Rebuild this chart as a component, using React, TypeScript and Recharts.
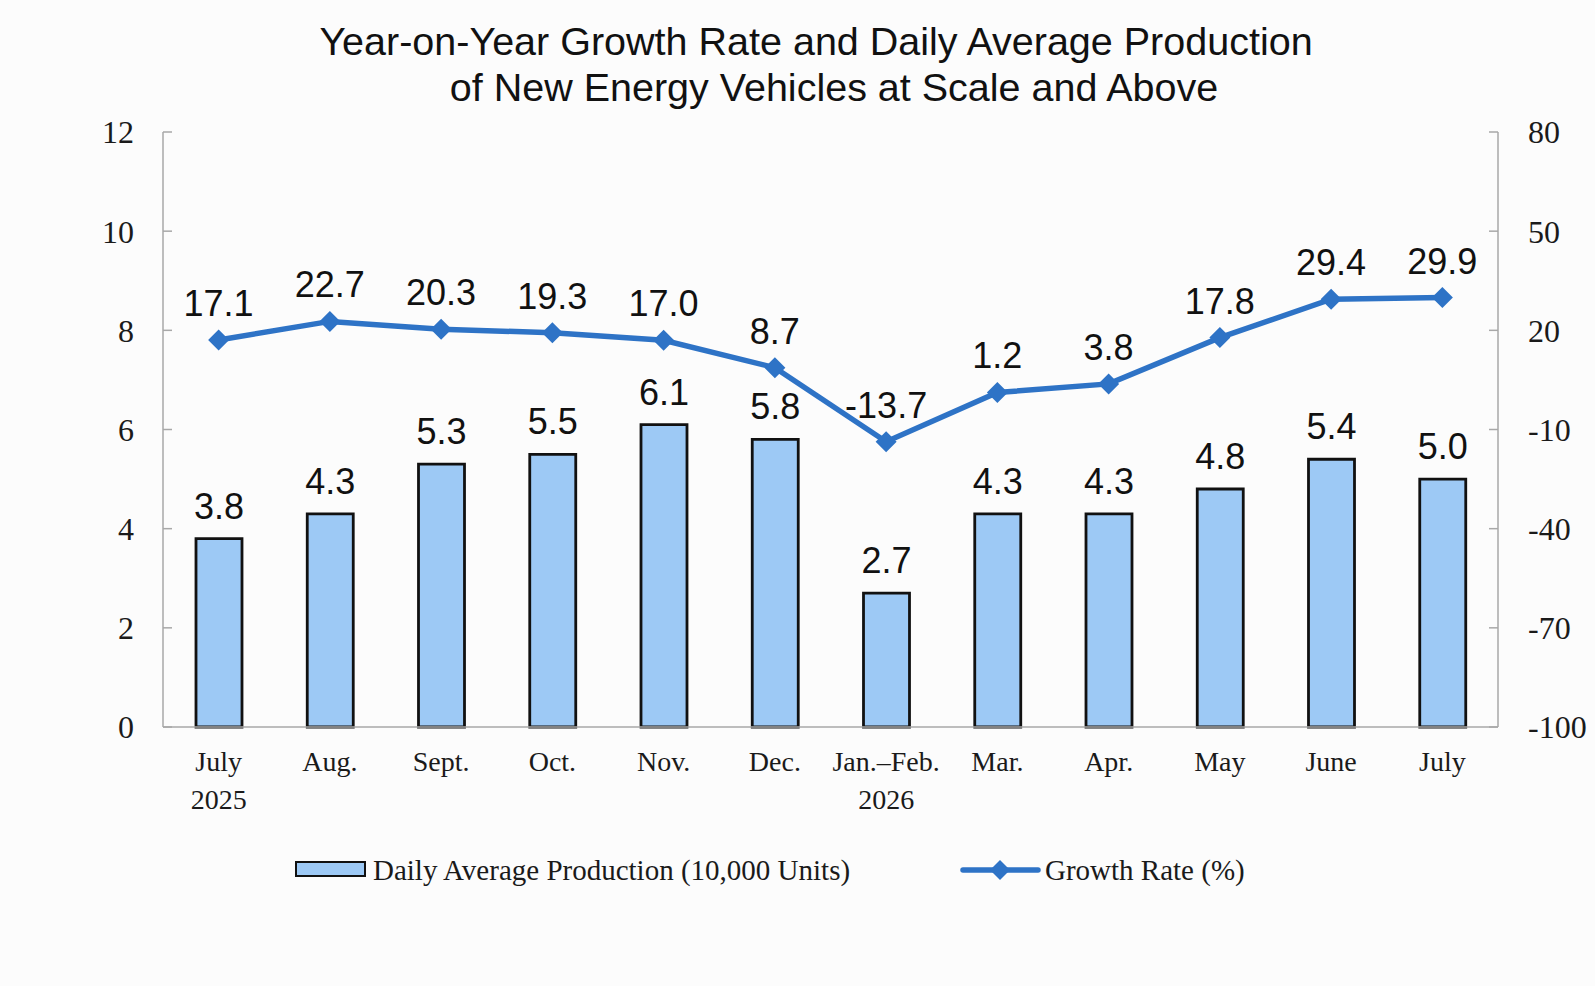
import React from 'react';
import { ComposedChart, Bar, Line, XAxis, YAxis, LabelList } from 'recharts';

// categories and values
const months = ['July', 'Aug.', 'Sept.', 'Oct.', 'Nov.', 'Dec.', 'Jan.\u2013Feb.', 'Mar.', 'Apr.', 'May', 'June', 'July'];
const years = ['2025', '', '', '', '', '', '2026', '', '', '', '', ''];
const production = [3.8, 4.3, 5.3, 5.5, 6.1, 5.8, 2.7, 4.3, 4.3, 4.8, 5.4, 5.0];
const growth = [17.1, 22.7, 20.3, 19.3, 17.0, 8.7, -13.7, 1.2, 3.8, 17.8, 29.4, 29.9];
const leftTicks = [0, 2, 4, 6, 8, 10, 12];
const rightTicks = [-100, -70, -40, -10, 20, 50, 80];
const boundaryTicks = [0, 1, 2, 3, 4, 5, 6, 7, 8, 9, 10, 11, 12];

const BAR_FILL = '#9DC9F5';
const LINE_COLOR = '#2E73C6';
const AXIS_COLOR = '#A8A8A8';
const SERIF = '"Liberation Serif", "DejaVu Serif", serif';
const SANS = '"Liberation Sans", Arial, sans-serif';

const data = months.map((m, i) => ({
  idx: i,
  month: m,
  production: production[i],
  growth: growth[i],
}));

const Diamond = (props: any) => {
  const { cx, cy } = props;
  if (cx == null || cy == null) return null;
  const r = 10.5;
  return (
    <path
      d={`M${cx},${cy - r}L${cx + r},${cy}L${cx},${cy + r}L${cx - r},${cy}Z`}
      fill={LINE_COLOR}
      stroke="none"
    />
  );
};

const MonthTick = (props: any) => {
  const { x, y, payload } = props;
  const i = payload.index;
  return (
    <text x={x} y={y} textAnchor="middle" fontFamily={SERIF} fontSize={28} fill="#1a1a1a">
      <tspan x={x} dy={44}>{months[i]}</tspan>
      {years[i] && (
        <tspan x={x} dy={38}>
          {years[i]}
        </tspan>
      )}
    </text>
  );
};

const fmt = (v: any) => Number(v).toFixed(1);

export default function App() {
  return (
    <div
      style={{
        position: 'absolute',
        left: 0,
        top: 0,
        width: 1595,
        height: 986,
        background: '#FCFCFC',
        overflow: 'hidden',
      }}
    >
      <div
        style={{
          position: 'absolute',
          left: 0,
          width: 1632,
          top: 19,
          textAlign: 'center',
          fontFamily: SANS,
          fontSize: 39.5,
          lineHeight: '44px',
          color: '#111',
          whiteSpace: 'nowrap',
        }}
      >
        Year-on-Year Growth Rate and Daily Average Production
      </div>
      <div
        style={{
          position: 'absolute',
          left: 0,
          width: 1668,
          top: 65,
          textAlign: 'center',
          fontFamily: SANS,
          fontSize: 39.5,
          lineHeight: '44px',
          color: '#111',
          whiteSpace: 'nowrap',
        }}
      >
        of New Energy Vehicles at Scale and Above
      </div>

      <div style={{ position: 'absolute', left: 0, top: 0 }}>
        <ComposedChart
          width={1595}
          height={986}
          data={data}
          margin={{ top: 132, right: 37, bottom: 159, left: 103 }}
        >
          <XAxis
            xAxisId="grid"
            type="number"
            domain={[0, 12]}
            ticks={boundaryTicks}
            allowDataOverflow
            height={0}
            tick={false}
            tickSize={-9}
            tickLine={{ stroke: AXIS_COLOR, strokeWidth: 1.5 }}
            axisLine={false}
          />
          <XAxis
            xAxisId="cat"
            dataKey="idx"
            type="category"
            height={100}
            interval={0}
            tickLine={false}
            tickSize={0}
            tickMargin={0}
            axisLine={{ stroke: AXIS_COLOR, strokeWidth: 1.5 }}
            tick={<MonthTick />}
          />
          <YAxis
            yAxisId="left"
            orientation="left"
            domain={[0, 12]}
            ticks={leftTicks}
            width={60}
            tickSize={-9}
            tickMargin={38}
            axisLine={{ stroke: AXIS_COLOR, strokeWidth: 1.5 }}
            tickLine={{ stroke: AXIS_COLOR, strokeWidth: 1.5 }}
            tick={{ fontFamily: SERIF, fontSize: 32, fill: '#1a1a1a' }}
          />
          <YAxis
            yAxisId="right"
            orientation="right"
            domain={[-100, 80]}
            ticks={rightTicks}
            width={60}
            tickSize={-9}
            tickMargin={39}
            axisLine={{ stroke: AXIS_COLOR, strokeWidth: 1.5 }}
            tickLine={{ stroke: AXIS_COLOR, strokeWidth: 1.5 }}
            tick={{ fontFamily: SERIF, fontSize: 32, fill: '#1a1a1a' }}
          />
          <Bar
            xAxisId="cat"
            yAxisId="left"
            dataKey="production"
            barSize={46}
            fill={BAR_FILL}
            stroke="#111"
            strokeWidth={2.8}
            isAnimationActive={false}
          >
            <LabelList
              dataKey="production"
              position="top"
              offset={20}
              formatter={fmt}
              style={{ fontFamily: SANS, fontSize: 36, fill: '#111' }}
            />
          </Bar>
          <Line
            xAxisId="cat"
            yAxisId="right"
            dataKey="growth"
            type="linear"
            stroke={LINE_COLOR}
            strokeWidth={5.5}
            dot={<Diamond />}
            activeDot={false}
            isAnimationActive={false}
          >
            <LabelList
              dataKey="growth"
              position="top"
              offset={24}
              formatter={fmt}
              style={{ fontFamily: SANS, fontSize: 36, fill: '#111' }}
            />
          </Line>
        </ComposedChart>
      </div>

      {/* legend */}
      <div
        style={{
          position: 'absolute',
          left: 295,
          top: 861,
          width: 67,
          height: 12,
          background: BAR_FILL,
          border: '2px solid #111',
        }}
      />
      <div
        style={{
          position: 'absolute',
          left: 373,
          top: 851,
          fontFamily: SERIF,
          fontSize: 29,
          lineHeight: '38px',
          color: '#1a1a1a',
          whiteSpace: 'nowrap',
        }}
      >
        Daily Average Production (10,000 Units)
      </div>
      <svg style={{ position: 'absolute', left: 960, top: 858 }} width={82} height={24}>
        <line x1={3} y1={12} x2={78} y2={12} stroke={LINE_COLOR} strokeWidth={5.5} strokeLinecap="round" />
        <path d="M40,2L50,12L40,22L30,12Z" fill={LINE_COLOR} />
      </svg>
      <div
        style={{
          position: 'absolute',
          left: 1045,
          top: 851,
          fontFamily: SERIF,
          fontSize: 29,
          lineHeight: '38px',
          color: '#1a1a1a',
          whiteSpace: 'nowrap',
        }}
      >
        Growth Rate (%)
      </div>
    </div>
  );
}
